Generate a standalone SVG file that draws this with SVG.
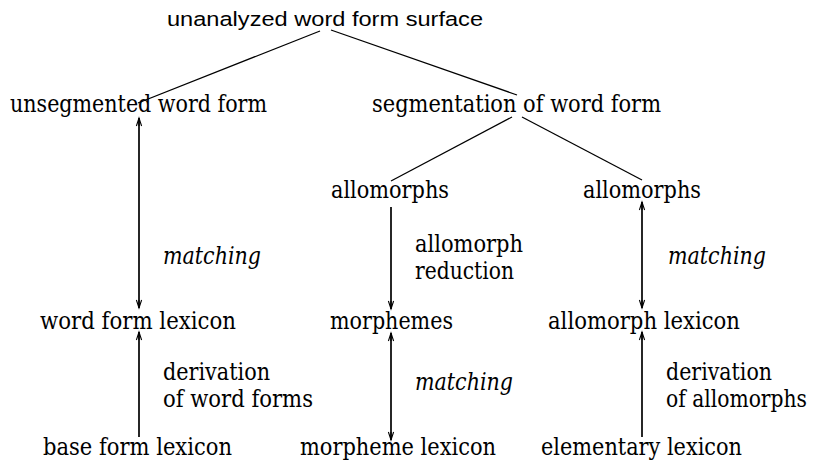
<svg xmlns="http://www.w3.org/2000/svg" width="817" height="466" viewBox="0 0 817 466">
<defs>
<style>
.t{font-family:'DejaVu Serif','Liberation Serif',serif;font-size:24px;fill:#000}
.i{font-style:italic}
.s{font-family:'Liberation Sans',Arial,sans-serif;font-size:20.5px;fill:#000}
.d{stroke:#000;stroke-width:1.3;fill:none}
.v{stroke:#000;stroke-width:1.7;fill:none}
</style>
<marker id="ah" viewBox="-10 -4 12 8" refX="0" refY="0" markerWidth="12" markerHeight="8" markerUnits="userSpaceOnUse" orient="auto-start-reverse">
<path d="M-8,-2.6 L0,0 L-8,2.6 M-8,0 L0,0" stroke="#000" stroke-width="1.1" fill="none"/>
</marker>
</defs>
<rect width="817" height="466" fill="#fff"/>
<g id="connectors">
<line class="d" x1="320" y1="31" x2="138" y2="103"/>
<line class="d" x1="331" y1="30" x2="517" y2="95"/>
<line class="d" x1="512" y1="117" x2="391" y2="181"/>
<line class="d" x1="522" y1="117" x2="642" y2="180"/>
<line class="v" x1="139" y1="118" x2="139" y2="308" marker-start="url(#ah)" marker-end="url(#ah)"/>
<line class="v" x1="139" y1="437" x2="139" y2="332" marker-end="url(#ah)"/>
<line class="v" x1="391" y1="207" x2="391" y2="309" marker-end="url(#ah)"/>
<line class="v" x1="391" y1="333" x2="391" y2="440" marker-start="url(#ah)" marker-end="url(#ah)"/>
<line class="v" x1="642" y1="202" x2="642" y2="308" marker-start="url(#ah)" marker-end="url(#ah)"/>
<line class="v" x1="642" y1="437" x2="642" y2="332" marker-end="url(#ah)"/>
</g>
<g id="surface"><text class="s" x="167" y="26" textLength="316" lengthAdjust="spacingAndGlyphs">unanalyzed word form surface</text></g>
<g id="unsegmented"><text class="t" x="10" y="112" textLength="257" lengthAdjust="spacingAndGlyphs">unsegmented word form</text></g>
<g id="segmentation"><text class="t" x="372" y="112" textLength="289" lengthAdjust="spacingAndGlyphs">segmentation of word form</text></g>
<g id="allomorphs1"><text class="t" x="331" y="198" textLength="118" lengthAdjust="spacingAndGlyphs">allomorphs</text></g>
<g id="allomorphs2"><text class="t" x="583" y="198" textLength="118" lengthAdjust="spacingAndGlyphs">allomorphs</text></g>
<g id="wordformlexicon"><text class="t" x="40" y="329" textLength="196" lengthAdjust="spacingAndGlyphs">word form lexicon</text></g>
<g id="morphemes"><text class="t" x="330" y="329" textLength="123" lengthAdjust="spacingAndGlyphs">morphemes</text></g>
<g id="allomorphlexicon"><text class="t" x="548" y="329" textLength="192" lengthAdjust="spacingAndGlyphs">allomorph lexicon</text></g>
<g id="baseformlexicon"><text class="t" x="43" y="455" textLength="189" lengthAdjust="spacingAndGlyphs">base form lexicon</text></g>
<g id="morphemelexicon"><text class="t" x="300" y="455" textLength="196" lengthAdjust="spacingAndGlyphs">morpheme lexicon</text></g>
<g id="elementarylexicon"><text class="t" x="541" y="455" textLength="201" lengthAdjust="spacingAndGlyphs">elementary lexicon</text></g>
<g id="labels">
<text class="t i" x="163" y="264" textLength="98" lengthAdjust="spacingAndGlyphs">matching</text>
<text class="t i" x="668" y="264" textLength="98" lengthAdjust="spacingAndGlyphs">matching</text>
<text class="t i" x="415" y="390" textLength="98" lengthAdjust="spacingAndGlyphs">matching</text>
<text class="t" x="415" y="252" textLength="108" lengthAdjust="spacingAndGlyphs">allomorph</text>
<text class="t" x="415" y="279" textLength="99" lengthAdjust="spacingAndGlyphs">reduction</text>
<text class="t" x="163" y="380" textLength="107" lengthAdjust="spacingAndGlyphs">derivation</text>
<text class="t" x="163" y="407" textLength="150" lengthAdjust="spacingAndGlyphs">of word forms</text>
<text class="t" x="666" y="380" textLength="106" lengthAdjust="spacingAndGlyphs">derivation</text>
<text class="t" x="666" y="407" textLength="141" lengthAdjust="spacingAndGlyphs">of allomorphs</text>
</g>
</svg>
